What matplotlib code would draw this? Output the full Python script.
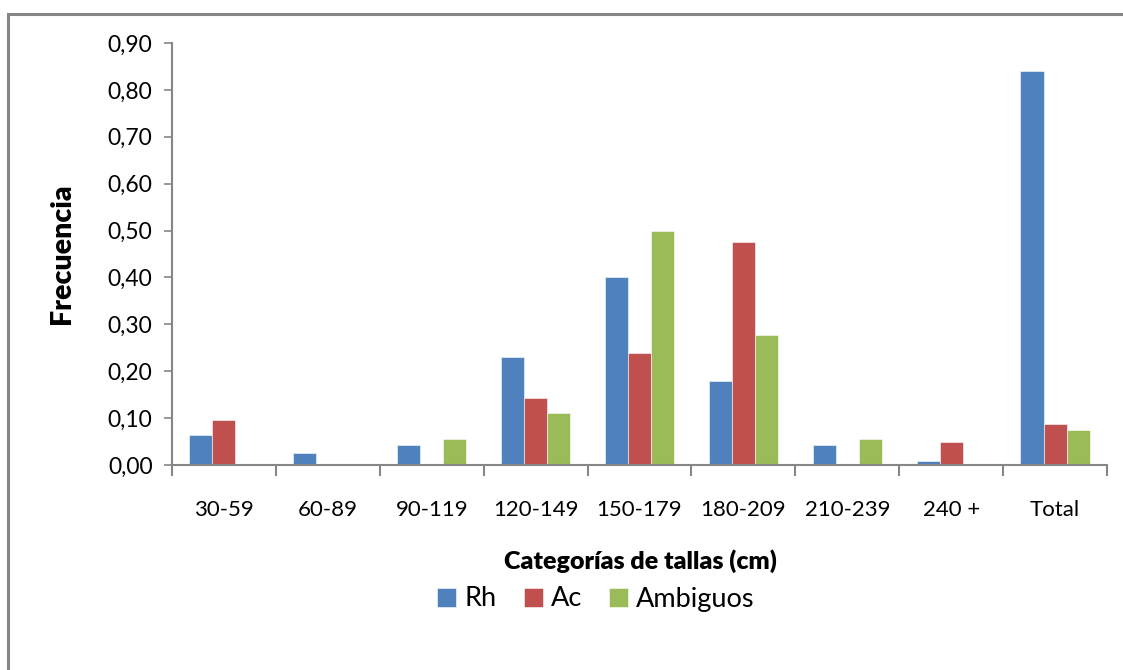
import matplotlib
matplotlib.use("Agg")
import matplotlib.pyplot as plt
import numpy as np
from matplotlib.patches import Rectangle

categories = ["30-59", "60-89", "90-119", "120-149", "150-179", "180-209", "210-239", "240 +", "Total"]
rh = [0.063, 0.025, 0.043, 0.230, 0.400, 0.180, 0.043, 0.008, 0.840]
ac = [0.095, 0.0, 0.0, 0.143, 0.238, 0.476, 0.0, 0.048, 0.087]
amb = [0.0, 0.0, 0.056, 0.111, 0.500, 0.278, 0.056, 0.0, 0.074]
series_names = ["Rh", "Ac", "Ambiguos"]
colors = ["#4F81BD", "#C0504D", "#9BBB59"]
yticks = [0.0, 0.1, 0.2, 0.3, 0.4, 0.5, 0.6, 0.7, 0.8, 0.9]

plt.rcParams['font.family'] = ['Lato', 'DejaVu Sans']

W, H = 1123, 670
fig = plt.figure(figsize=(W / 100, H / 100), dpi=100)
fig.patches.append(Rectangle((8 / W, -0.1), 1.2, (H - 14) / H + 0.1,
                             transform=fig.transFigure, fill=False,
                             edgecolor="#868686", linewidth=2.2, zorder=0))

left, right, bottom, top = 172 / W, 1107 / W, 1 - 465 / H, 1 - 43 / H
ax = fig.add_axes([left, bottom, right - left, top - bottom])

n = len(categories)
x = np.arange(n)
bw = 1 / (3 + 1.5)
for i, (vals, name, col) in enumerate(zip([rh, ac, amb], series_names, colors)):
    ax.bar(x + (i - 1) * bw, vals, width=bw, color=col, label=name,
           edgecolor="white", linewidth=0.4, zorder=2)

ax.set_xlim(-0.5, n - 0.5)
ax.set_ylim(0, 0.9)
ax.set_yticks(yticks)
ax.set_yticklabels([f"{v:.2f}".replace(".", ",") for v in yticks], fontsize=16.5)
ax.set_xticks(x)
ax.set_xticklabels(categories, fontsize=16)
ax.tick_params(axis='x', which='major', length=0, pad=25)
ax.set_xticks(np.arange(-0.5, n, 1), minor=True)
ax.tick_params(axis='x', which='minor', length=8, width=1.5, color="#868686", direction='out')
ax.tick_params(axis='y', length=6, width=1.2, color="#868686", direction='out', pad=8)

for s in ["top", "right"]:
    ax.spines[s].set_visible(False)
for s in ["left", "bottom"]:
    ax.spines[s].set_color("#868686")
    ax.spines[s].set_linewidth(1.5)

fig.text(62 / W, 1 - 254 / H, "Frecuencia", rotation=90, fontsize=20.5,
         fontweight='heavy', ha='center', va='center')
fig.text(640 / W, 1 - 561 / H, "Categorías de tallas (cm)", fontsize=18,
         fontweight='heavy', ha='center', va='center')

handles, labels = ax.get_legend_handles_labels()
fig.legend(handles, labels, loc='center', bbox_to_anchor=(596 / W, 1 - 599 / H),
           ncol=3, frameon=False, fontsize=19.5, handlelength=0.7, handleheight=0.7,
           handletextpad=0.3, columnspacing=1.0)

fig.savefig("out.png", dpi=100)
